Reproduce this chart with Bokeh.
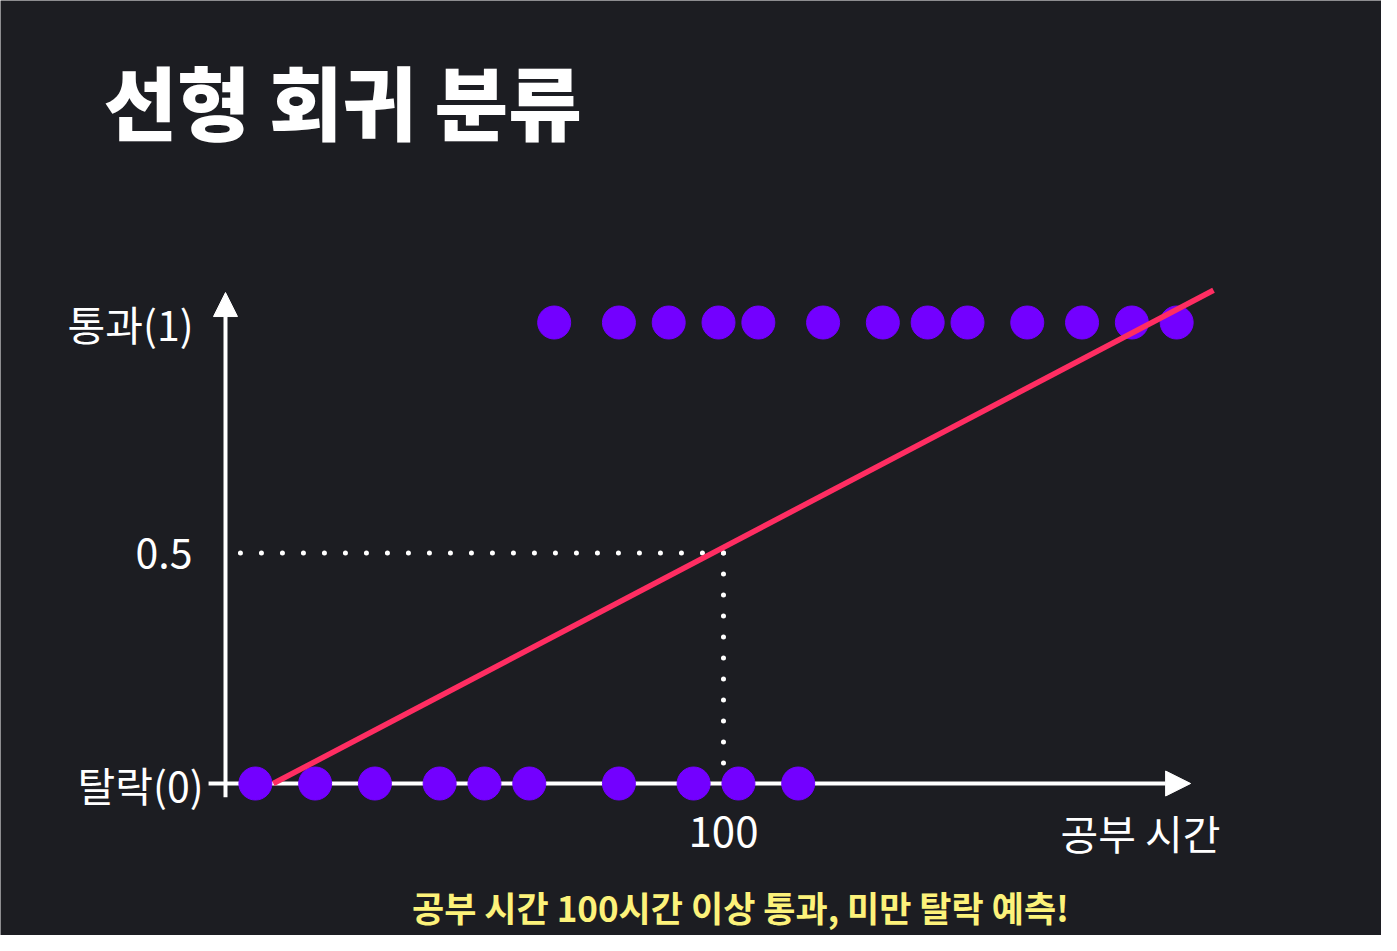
from bokeh.plotting import figure
from bokeh.models import Arrow, NormalHead, Label, ColumnDataSource
from bokeh.core.properties import value
from bokeh.embed import file_html
from bokeh.resources import INLINE

# study hours of students who failed (0) / passed (1)
fail_hours = [6, 18, 30, 43, 52, 61, 79, 94, 103, 115]
pass_hours = [66, 79, 89, 99, 107, 120, 132, 141, 149, 161, 172, 182, 191]

# fitted regression line (two ends)
fit_hours = [9.6, 198.4]
fit_prob = [0, 1.07]

threshold_hours = 100
threshold_prob = 0.5

y_tick_values = [0, 0.5, 1]
y_tick_labels = ["탈락(0)", "0.5", "통과(1)"]
x_tick_values = [100]
x_tick_labels = ["100"]

title_text = "선형 회귀 분류"
x_axis_label = "공부 시간"
caption = "공부 시간 100시간 이상 통과, 미만 탈락 예측!"

BG = "#1c1d22"
FONT = "Noto Sans CJK KR"

p = figure(width=1381, height=935, x_range=(-45.18, 232.13), y_range=(-0.3297, 1.6985),
           output_backend="svg", toolbar_location=None,
           x_axis_location=None, y_axis_location=None, min_border=0)
p.background_fill_color = BG
p.border_fill_color = BG
p.outline_line_color = None
p.grid.visible = False

# axes drawn as arrows
p.add_layout(Arrow(end=NormalHead(size=25, fill_color="white", line_color="white"),
                   x_start=-3.4, y_start=0, x_end=193.8, y_end=0,
                   line_color="white", line_width=4, level="underlay"))
p.add_layout(Arrow(end=NormalHead(size=24, fill_color="white", line_color="white"),
                   x_start=0, y_start=-0.03, x_end=0, y_end=1.065,
                   line_color="white", line_width=4, level="underlay"))

# threshold guides
p.line([3, threshold_hours], [threshold_prob, threshold_prob], line_color="white",
       line_width=5, line_dash="0 21", line_cap="round")
p.line([threshold_hours, threshold_hours], [threshold_prob, 0.03], line_color="white",
       line_width=5, line_dash="0 21", line_cap="round")

# data points
p.scatter(fail_hours, [0] * len(fail_hours), size=33, color="#7300ff")
p.scatter(pass_hours, [1] * len(pass_hours), size=33, color="#7300ff")

# regression line
p.line(fit_hours, fit_prob, line_color="#ff2d62", line_width=5.5)

# tick labels
ysrc = ColumnDataSource(dict(y=y_tick_values, text=y_tick_labels, xo=[-22, -33, -32]))
p.text(x=0, y="y", text="text", x_offset="xo", source=ysrc, text_align="right",
       text_baseline="middle", text_color="white", text_font=value(FONT),
       text_font_size="41px")
p.text(x=x_tick_values, y=[0] * len(x_tick_values), text=x_tick_labels, y_offset=48,
       text_align="center", text_baseline="middle", text_color="white",
       text_font=value(FONT), text_font_size="42px")

p.add_layout(Label(x=1140, y=104, x_units="screen", y_units="screen", text=x_axis_label,
                   text_align="center", text_baseline="middle", text_color="white",
                   text_font=FONT, text_font_size="41px"))

p.add_layout(Label(x=103, y=837, x_units="screen", y_units="screen", text=title_text,
                   text_baseline="middle", text_color="white", text_font="Noto Sans CJK KR Black",
                   text_font_size="80px", text_font_style="bold"))

p.add_layout(Label(x=740, y=29, x_units="screen", y_units="screen", text=caption,
                   text_align="center", text_baseline="middle", text_color="#fcf27a",
                   text_font=FONT, text_font_size="35px", text_font_style="bold"))

open("out.html", "w").write(file_html(p, INLINE))
